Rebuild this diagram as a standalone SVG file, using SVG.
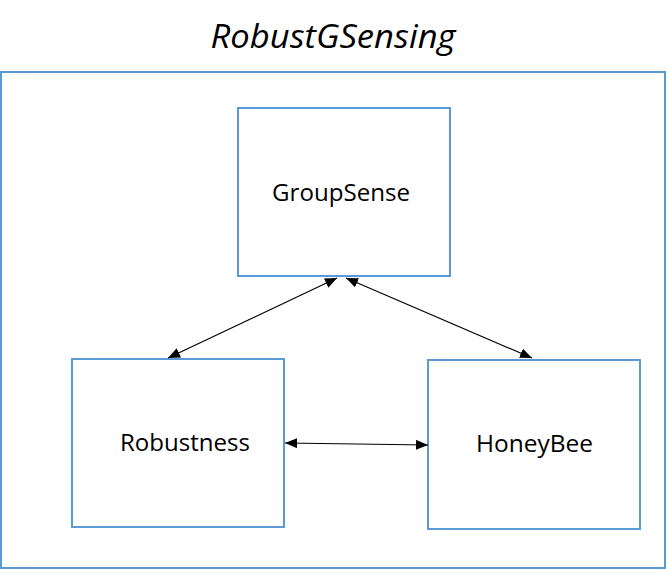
<svg xmlns="http://www.w3.org/2000/svg" width="667" height="570" viewBox="0 0 667 570">
<defs>
<style>
.box{fill:#fff;stroke:#5B9BD5;stroke-width:2}
.lbl{font-family:"Open Sans","Liberation Sans",sans-serif;font-size:23px;fill:#000;text-anchor:middle}
.title{font-family:"Open Sans","Liberation Sans",sans-serif;font-style:italic;font-size:32px;fill:#000;text-anchor:middle}
.conn{stroke:#000;stroke-width:1.2;fill:none;marker-start:url(#ah);marker-end:url(#ah)}
</style>
<marker id="ah" viewBox="0 0 12 10" refX="12" refY="5" markerWidth="12" markerHeight="10" markerUnits="userSpaceOnUse" orient="auto-start-reverse">
<path d="M0,0 L12,5 L0,10 z" fill="#000"/>
</marker>
</defs>
<rect width="667" height="570" fill="#fff"/>
<text class="title" x="333" y="48" textLength="245" lengthAdjust="spacingAndGlyphs">RobustGSensing</text>
<g id="container"><rect class="box" x="1" y="72" width="664" height="496"/></g>
<g id="groupsense"><rect class="box" x="238" y="108" width="212" height="168"/><text class="lbl" x="341" y="201" textLength="138" lengthAdjust="spacingAndGlyphs">GroupSense</text></g>
<g id="robustness"><rect class="box" x="72" y="359" width="212" height="168"/><text class="lbl" x="185" y="451" textLength="130" lengthAdjust="spacingAndGlyphs">Robustness</text></g>
<g id="honeybee"><rect class="box" x="428" y="360" width="212" height="169"/><text class="lbl" x="534.5" y="452" textLength="117" lengthAdjust="spacingAndGlyphs">HoneyBee</text></g>
<g id="connectors">
<line class="conn" x1="337" y1="278" x2="168" y2="358"/>
<line class="conn" x1="346" y1="278" x2="532" y2="358"/>
<line class="conn" x1="285" y1="443" x2="428" y2="445"/>
</g>
</svg>
